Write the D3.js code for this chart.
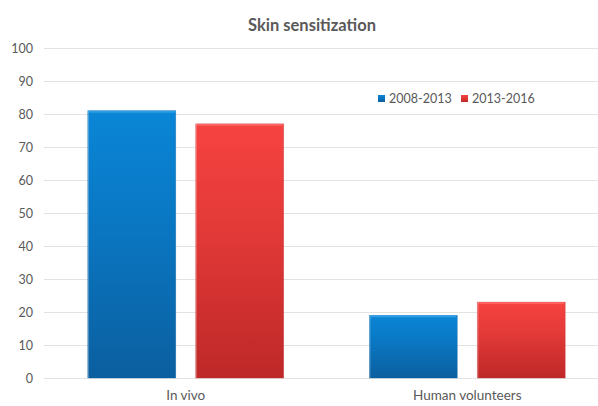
<!DOCTYPE html>
<html>
<head>
<meta charset="utf-8">
<script src="https://cdn.jsdelivr.net/npm/d3@7"></script>
<style>
  html, body { margin: 0; padding: 0; background: #fff; }
  svg { display: block; font-family: Lato, "Open Sans", sans-serif; }
</style>
</head>
<body>
<svg id="chart" width="598" height="406"></svg>
<script>
// Chart data
const categories = ["In vivo", "Human volunteers"];
const seriesNames = ["2008-2013", "2013-2016"];
const series2008 = [81, 19];
const series2013 = [77, 23];
const yTicks = [0, 10, 20, 30, 40, 50, 60, 70, 80, 90, 100];
const chartTitle = "Skin sensitization";

const svg = d3.select("#chart");
const W = 598, H = 406;

const y = d3.scaleLinear().domain([0, 100]).range([378, 48]);
const x0 = d3.scaleBand().domain(categories).range([45, 608]).paddingInner(0.304).paddingOuter(0.152);
const x1 = d3.scaleBand().domain(seriesNames).range([0, x0.bandwidth()]).paddingInner(0.185).paddingOuter(0);

// Gradients for the bevelled bars
const defs = svg.append("defs");
const palettes = {
  "2008-2013": ["#0a86d6", "#0a78c4", "#0b5f9f"],
  "2013-2016": ["#f64341", "#e33a38", "#be2828"]
};
seriesNames.forEach((s, i) => {
  const g = defs.append("linearGradient").attr("id", "grad" + i)
    .attr("x1", 0).attr("y1", 0).attr("x2", 0).attr("y2", 1);
  g.append("stop").attr("offset", "0%").attr("stop-color", palettes[s][0]);
  g.append("stop").attr("offset", "40%").attr("stop-color", palettes[s][1]);
  g.append("stop").attr("offset", "100%").attr("stop-color", palettes[s][2]);
});

// Gridlines
svg.append("g").selectAll("line").data(yTicks).join("line")
  .attr("x1", 44).attr("x2", W)
  .attr("y1", d => Math.round(y(d)) + 0.5).attr("y2", d => Math.round(y(d)) + 0.5)
  .attr("stroke", "#e2e2e2").attr("stroke-width", 1);

// Y axis labels
const yAxis = d3.axisLeft(y).tickValues(yTicks).tickSize(0).tickPadding(0);
const ya = svg.append("g").attr("transform", "translate(33,0)").call(yAxis);
ya.select(".domain").remove();
ya.selectAll("text").attr("fill", "#595959").style("font-size", "12.5px").style("font-family", "Lato, sans-serif");

// Bars
const rows = categories.map((c, i) => ({ cat: c, vals: [series2008[i], series2013[i]] }));
const groups = svg.append("g").selectAll("g").data(rows).join("g")
  .attr("transform", d => `translate(${x0(d.cat)},0)`);

groups.each(function(d) {
  const g = d3.select(this);
  d.vals.forEach((v, i) => {
    const bx = x1(seriesNames[i]);
    const bw = x1.bandwidth();
    const top = y(v), bot = y(0);
    g.append("rect")
      .attr("x", bx).attr("y", top).attr("width", bw).attr("height", bot - top)
      .attr("fill", `url(#grad${i})`)
      .attr("stroke", i === 0 ? "#1b6aa8" : "#c84040").attr("stroke-width", 0.6).attr("stroke-opacity", 0.6);
    // top highlight
    g.append("rect")
      .attr("x", bx + 1).attr("y", top).attr("width", bw - 2).attr("height", 2)
      .attr("fill", i === 0 ? "#3aa4ea" : "#ff6a66").attr("opacity", 0.8);
    // side highlight
    g.append("rect")
      .attr("x", bx).attr("y", top).attr("width", 1.2).attr("height", bot - top)
      .attr("fill", "#ffffff").attr("opacity", 0.25);
  });
});

// Category labels
const xAxis = d3.axisBottom(x0).tickSize(0).tickPadding(0);
const xa = svg.append("g").attr("transform", "translate(0,390)").call(xAxis);
xa.select(".domain").remove();
xa.selectAll("text").attr("fill", "#595959").style("font-size", "13.5px").style("font-family", "Lato, sans-serif");

// Title
svg.append("text").attr("x", 312).attr("y", 31).attr("text-anchor", "middle")
  .attr("fill", "#595959").style("font-size", "16.5px").style("font-weight", "bold")
  .text(chartTitle);

// Legend
const legend = svg.append("g").attr("transform", "translate(378,99)");
const legX = [0, 83];
seriesNames.forEach((s, i) => {
  const lg = legend.append("g").attr("transform", `translate(${legX[i]},0)`);
  lg.append("rect").attr("x", 0).attr("y", -4).attr("width", 7).attr("height", 7)
    .attr("fill", `url(#grad${i})`);
  lg.append("text").attr("x", 11).attr("y", 0).attr("dy", "0.35em")
    .attr("fill", "#595959").style("font-size", "12.5px").text(s);
});
</script>
</body>
</html>
